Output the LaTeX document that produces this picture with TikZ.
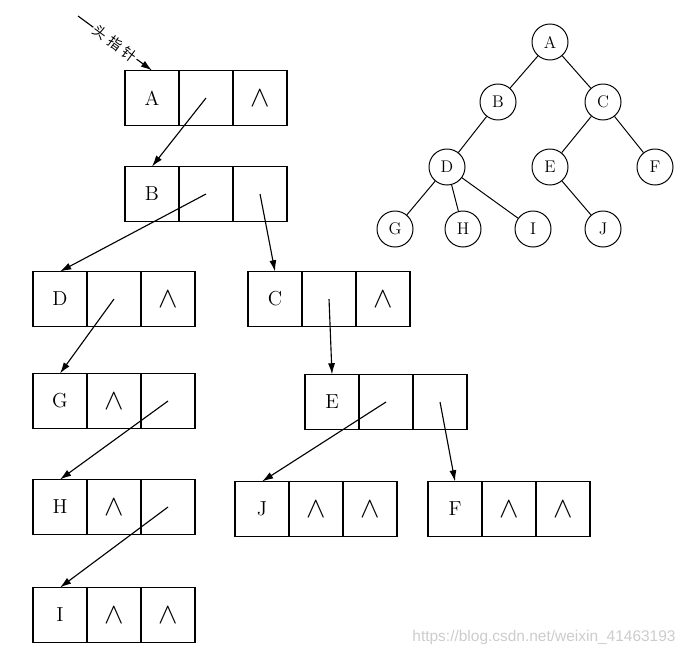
\documentclass[tikz,border=0pt]{standalone}
\usepackage{fontspec}
\setsansfont{Liberation Sans}
\newfontfamily\cjk[LetterSpace=30]{Noto Sans CJK SC}
\usepackage{tikz}
\usetikzlibrary{arrows.meta,positioning}

\begin{document}
\begin{tikzpicture}[x=0.025cm, y=-0.025cm,
  cell/.style={rectangle, draw, line width=0.9pt, outer sep=0pt, inner sep=0pt, minimum width=1.35cm, minimum height=1.375cm, font=\Large},
  nil/.style={cell, font=\huge},
  tnode/.style={circle, draw, line width=0.7pt, inner sep=0pt, minimum size=0.9cm, font=\large},
  line/.style={draw, -{Latex[length=8pt,width=5pt]}, line width=0.8pt},
  edge/.style={draw, line width=0.7pt}]

  \useasboundingbox (0,0) rectangle (689,657);

  \node [cell] (a) at (152,98) {A};
  \node [cell, right=0pt of a] (al) {};
  \node [nil, right=0pt of al] (ar) {$\wedge$};

  \node [cell] (b) at (152,194) {B};
  \node [cell, right=0pt of b] (bl) {};
  \node [cell, right=0pt of bl] (br) {};

  \node [cell] (d) at (60,299) {D};
  \node [cell, right=0pt of d] (dl) {};
  \node [nil, right=0pt of dl] (dr) {$\wedge$};

  \node [cell] (c) at (275,299) {C};
  \node [cell, right=0pt of c] (cl) {};
  \node [nil, right=0pt of cl] (cr) {$\wedge$};

  \node [cell] (g) at (60,401) {G};
  \node [nil, right=0pt of g] (gl) {$\wedge$};
  \node [cell, right=0pt of gl] (gr) {};

  \node [cell] (e) at (332,402) {E};
  \node [cell, right=0pt of e] (el) {};
  \node [cell, right=0pt of el] (er) {};

  \node [cell] (h) at (60,507) {H};
  \node [nil, right=0pt of h] (hl) {$\wedge$};
  \node [cell, right=0pt of hl] (hr) {};

  \node [cell] (j) at (262,509) {J};
  \node [nil, right=0pt of j] (jl) {$\wedge$};
  \node [nil, right=0pt of jl] (jr) {$\wedge$};

  \node [cell] (f) at (455,509) {F};
  \node [nil, right=0pt of f] (fl) {$\wedge$};
  \node [nil, right=0pt of fl] (fr) {$\wedge$};

  \node [cell] (i) at (60,615) {I};
  \node [nil, right=0pt of i] (il) {$\wedge$};
  \node [nil, right=0pt of il] (ir) {$\wedge$};

  \coordinate (head) at (78,16);
  \draw [line] (head) -- node [sloped, fill=white, inner sep=1pt, font=\cjk] {头指针} (a.north);

  \draw [line] (al.center) -- (b.north);
  \draw [line] (bl.center) -- (d.north);
  \draw [line] (br.center) -- (c.north);
  \draw [line] (dl.center) -- (g.north);
  \draw [line] (cl.center) -- (e.north);
  \draw [line] (gr.center) -- (h.north);
  \draw [line] (el.center) -- (j.north);
  \draw [line] (er.center) -- (f.north);
  \draw [line] (hr.center) -- (i.north);

  \node [tnode] (ta) at (550,42) {A};
  \node [tnode] (tb) at (498,102) {B};
  \node [tnode] (tc) at (603,102) {C};
  \node [tnode] (td) at (447,167) {D};
  \node [tnode] (te) at (550,167) {E};
  \node [tnode] (tf) at (655,167) {F};
  \node [tnode] (tg) at (395,229) {G};
  \node [tnode] (th) at (463,229) {H};
  \node [tnode] (ti) at (533,229) {I};
  \node [tnode] (tj) at (603,229) {J};

  \draw [edge] (ta) -- (tb);
  \draw [edge] (ta) -- (tc);
  \draw [edge] (tb) -- (td);
  \draw [edge] (tc) -- (te);
  \draw [edge] (tc) -- (tf);
  \draw [edge] (td) -- (tg);
  \draw [edge] (td) -- (th);
  \draw [edge] (td) -- (ti);
  \draw [edge] (te) -- (tj);

  \node [font=\sffamily\fontsize{11}{13}\selectfont, text=gray!40] (mark) at (544,637) {https://blog.csdn.net/weixin\_41463193};
\end{tikzpicture}
\end{document}
